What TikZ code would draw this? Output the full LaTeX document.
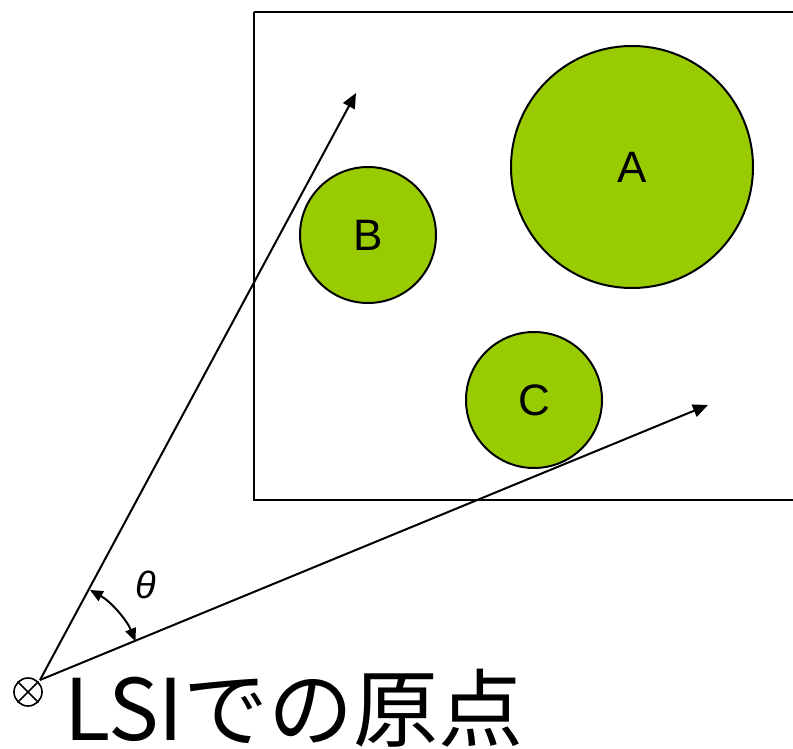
\documentclass[tikz,border=0pt]{standalone}
\usepackage{fontspec}
\setmainfont{Liberation Sans}
\newfontfamily\jpfont{Noto Sans CJK JP}
\usetikzlibrary{arrows.meta}
\definecolor{leaf}{HTML}{99CC00}
\begin{document}
\begin{tikzpicture}[x=1pt,y=-1pt,
  disc/.style={circle,draw=black,line width=2pt,fill=leaf,inner sep=0pt,font=\fontsize{44}{44}\selectfont},
  ray/.style={line width=2pt,-{Triangle[length=15pt,width=13pt]}},
  frame/.style={line width=2pt}]
\useasboundingbox (0,0) rectangle (793,749);
\draw[frame] (254,12) -- (797,12) (254,12) -- (254,500) -- (797,500);
\node[disc,minimum size=242pt] (A) at (632,167) {A};
\node[disc,minimum size=136pt] (B) at (368,235) {B};
\node[disc,minimum size=136pt] (C) at (534,400) {C};
\node[circle,draw,line width=1.6pt,minimum size=28pt,inner sep=0pt] (o) at (28,692) {};
\draw[line width=1.6pt] (o.north west) -- (o.south east) (o.north east) -- (o.south west);
\coordinate (O) at (40,680);
\coordinate (p) at (356,93);
\coordinate (q) at (708,405);
\coordinate (s) at (89.9,589.9);
\draw[ray] (O) -- (p);
\draw[ray] (O) -- (q);
\draw[line width=2pt,{Triangle[length=13pt,width=11pt]}-{Triangle[length=13pt,width=11pt]}]
  (s) arc[start angle=61,end angle=22,radius=103pt];
\node[font=\itshape\fontsize{38}{38}\selectfont] (th) at (146,585) {θ};
\node[anchor=base west,inner sep=0pt,font=\jpfont\fontsize{85}{85}\selectfont] (lbl) at (64,740) {LSIでの原点};
\end{tikzpicture}
\end{document}
